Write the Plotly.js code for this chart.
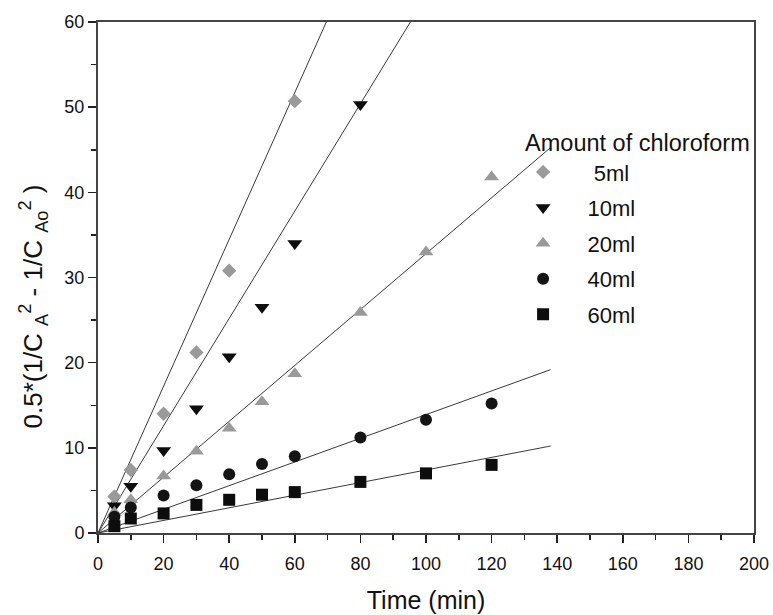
<!DOCTYPE html>
<html>
<head>
<meta charset="utf-8">
<script src="https://cdn.plot.ly/plotly-3.0.1.min.js"></script>
<style>html,body{margin:0;padding:0;background:#fff;}#chart{width:773px;height:615px;}</style>
</head>
<body>
<div id="chart"></div>
<script>
// Data
const seriesNames = ["5ml", "10ml", "20ml", "40ml", "60ml"];
const time5  = [5, 10, 20, 30, 40, 60];
const y5     = [4.3, 7.4, 14.0, 21.2, 30.8, 50.7];
const time10 = [5, 10, 20, 30, 40, 50, 60, 80];
const y10    = [3.2, 5.5, 9.7, 14.6, 20.7, 26.5, 34.0, 50.3];
const time20 = [5, 10, 20, 30, 40, 50, 60, 80, 100, 120];
const y20    = [2.4, 3.9, 6.7, 9.6, 12.3, 15.4, 18.7, 25.9, 33.0, 41.8];
const time40 = [5, 10, 20, 30, 40, 50, 60, 80, 100, 120];
const y40    = [1.9, 3.0, 4.4, 5.6, 6.9, 8.1, 9.0, 11.2, 13.3, 15.2];
const time60 = [5, 10, 20, 30, 40, 50, 60, 80, 100, 120];
const y60    = [0.8, 1.7, 2.3, 3.3, 3.9, 4.5, 4.8, 6.0, 7.0, 8.0];
// Linear fit lines through the origin (slopes), drawn from 0 to 138 min
const fitSlopes = [0.862, 0.630, 0.328, 0.139, 0.074];
const fitX = [0, 138];

const xs = [time5, time10, time20, time40, time60];
const ys = [y5, y10, y20, y40, y60];
const symbols = ["diamond", "triangle-down", "triangle-up", "circle", "square"];
const colors = ["#9a9a9a", "#0d0d0d", "#9a9a9a", "#141414", "#0d0d0d"];
const sizes = [11, 13, 13, 12, 12];
const pad = ["\u00A0\u00A0\u00A0\u00A0\u00A0", "\u00A0\u00A0\u00A0\u00A0", "\u00A0\u00A0\u00A0\u00A0", "\u00A0\u00A0\u00A0\u00A0", "\u00A0\u00A0\u00A0\u00A0"];

const traces = [];
for (let i = 0; i < 5; i++) {
  traces.push({
    x: fitX, y: fitX.map(v => v * fitSlopes[i]),
    mode: "lines", line: {color: "#3a3a3a", width: 1},
    showlegend: false, hoverinfo: "skip"
  });
}
for (let i = 0; i < 5; i++) {
  traces.push({
    x: xs[i], y: ys[i], name: pad[i] + seriesNames[i],
    mode: "markers", legendgroup: "g" + i,
    marker: {symbol: symbols[i], color: colors[i], size: sizes[i], line: {width: 0}}
  });
}

const font = "'Liberation Sans', Arial, Helvetica, sans-serif";
const layout = {
  width: 773, height: 615,
  margin: {l: 97.5, r: 19, t: 21.7, b: 82},
  paper_bgcolor: "#fff", plot_bgcolor: "#fff",
  font: {family: font, color: "#111"},
  showlegend: true,
  legend: {
    x: 0.648, y: 0.807, xanchor: "left", yanchor: "top",
    bgcolor: "rgba(0,0,0,0)", borderwidth: 0,
    font: {size: 22, family: font, color: "#111"},
    title: {text: "Amount of chloroform", font: {size: 23.5, family: font, color: "#111"}},
    traceorder: "grouped", tracegroupgap: 4, itemwidth: 30
  },
  xaxis: {
    range: [0, 200], dtick: 20, tick0: 0,
    ticks: "outside", ticklen: 8, tickwidth: 1.5, tickcolor: "#222",
    minor: {dtick: 10, ticks: "outside", ticklen: 5, tickwidth: 1.5, tickcolor: "#222", showgrid: false},
    showline: true, linewidth: 2, linecolor: "#444", mirror: true,
    showgrid: false, zeroline: false, ticklabelstandoff: 5,
    tickfont: {size: 18, family: font, color: "#111"},
    title: {text: "Time (min)", font: {size: 25, family: font, color: "#111"}, standoff: 19}
  },
  yaxis: {
    range: [0, 60], dtick: 10, tick0: 0,
    ticks: "outside", ticklen: 8, tickwidth: 1.5, tickcolor: "#222",
    minor: {dtick: 5, ticks: "outside", ticklen: 5, tickwidth: 1.5, tickcolor: "#222", showgrid: false},
    showline: true, linewidth: 2, linecolor: "#444", mirror: true,
    showgrid: false, zeroline: false,
    tickfont: {size: 18, family: font, color: "#111"}
  },
  annotations: [{
    text: "0.5*(1/C <sub>A</sub><sup>2</sup> - 1/C <sub>Ao</sub><sup>2</sup> )",
    xref: "paper", yref: "paper", x: -0.0985, y: 0.444,
    xanchor: "center", yanchor: "middle", textangle: -90, showarrow: false,
    font: {size: 26, family: font, color: "#111"}
  }]
};

Plotly.newPlot("chart", traces, layout, {displayModeBar: false, staticPlot: true});
</script>
</body>
</html>
